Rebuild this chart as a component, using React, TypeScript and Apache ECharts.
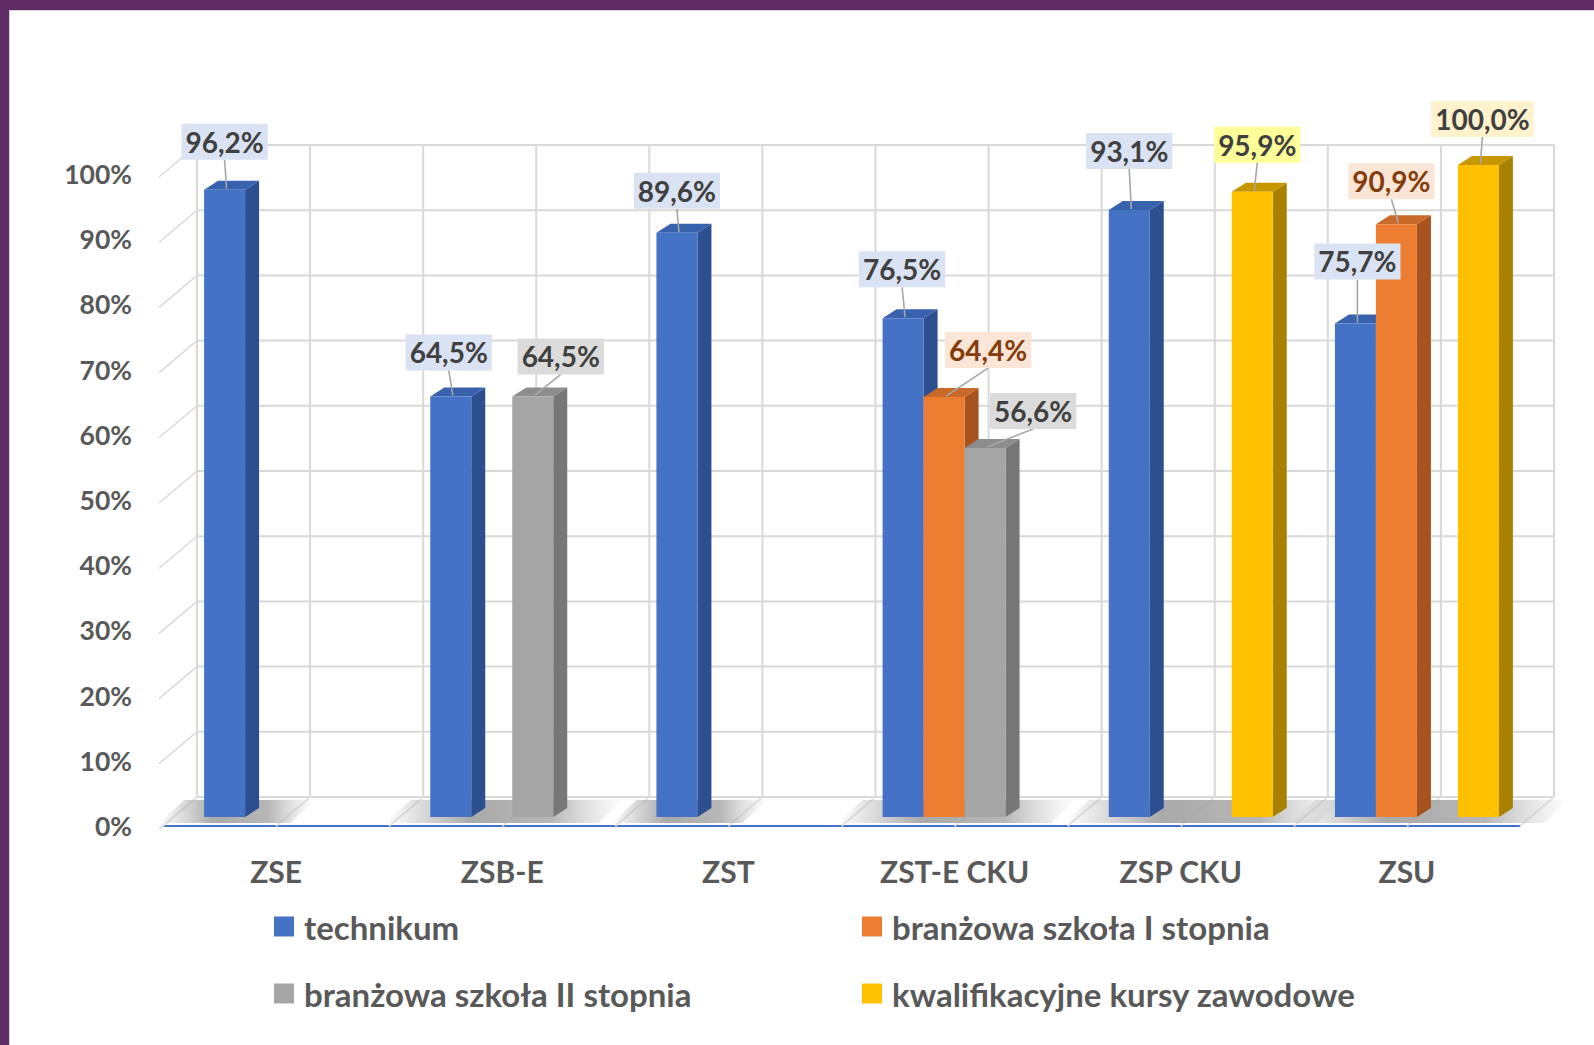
import React, { useEffect, useRef } from "react";
import * as echarts from "echarts";

// ---------- data ----------
const categories = ["ZSE", "ZSB-E", "ZST", "ZST-E CKU", "ZSP CKU", "ZSU"];
const seriesNames = [
  "technikum",
  "branżowa szkoła I stopnia",
  "branżowa szkoła II stopnia",
  "kwalifikacyjne kursy zawodowe",
];
const technikum = [96.2, 64.5, 89.6, 76.5, 93.1, 75.7];
const branzowaI = [null, null, null, 64.4, null, 90.9];
const branzowaII = [null, 64.5, null, 56.6, null, null];
const kursy = [null, null, null, null, 95.9, 100.0];
const yTicks = [0, 10, 20, 30, 40, 50, 60, 70, 80, 90, 100];

const seriesValues: (number | null)[][] = [technikum, branzowaI, branzowaII, kursy];

// ---------- layout / style ----------
const FONT = "Lato";
const BAR_FRAC = 41 / 226.2; // bar width as fraction of category width
const BAR_SHIFT = { x: 10, y: -9 };
const DEPTH = { dx: 14, dy: -9 };
const WALL = { dx: 34, dy: -29 };
const GRID_COLOR = "#d9d9d9";

const barColors = [
  { front: "#4472c4", side: "#2e4f8f", top: "#3862ae" },
  { front: "#ed7d31", side: "#a6531d", top: "#c9692a" },
  { front: "#a5a5a5", side: "#777777", top: "#8d8d8d" },
  { front: "#ffc000", side: "#a88100", top: "#c79700" },
];
const labelText = ["#404040", "#843c0c", "#404040", "#404040"];
const labelBg = [
  ["#dae3f3", "#dae3f3", "#dae3f3", "#dae3f3", "#dae3f3", "#dae3f3"],
  ["#fbe5d6", "#fbe5d6", "#fbe5d6", "#fbe5d6", "#fbe5d6", "#fbe5d6"],
  ["#dbdbdb", "#dbdbdb", "#dbdbdb", "#dbdbdb", "#dbdbdb", "#dbdbdb"],
  ["#fff2cc", "#fff2cc", "#fff2cc", "#fff2cc", "#ffff99", "#fff2cc"],
];
// label offsets (px) from bar front-top center
const labelOffsets: ([number, number] | null)[][] = [
  [[0, -48], [-2, -44], [0, -42], [-1, -49], [0, -59], [2, -62]],
  [null, null, null, [44, -47], null, [-5, -43]],
  [null, [28, -40], null, [48, -37], null, null],
  [null, null, null, null, [5, -47], [4, -46]],
];

function fmt(v: number) {
  return v.toFixed(1).replace(".", ",") + "%";
}

function barGeom(api: any, cat: number, v: number, slot: number) {
  const base = api.coord([cat, 0]);
  const top = api.coord([cat, v]);
  const catW = api.size([1, 0])[0];
  const bw = catW * BAR_FRAC;
  const x0 = base[0] - 2 * bw + BAR_SHIFT.x + slot * bw;
  return { x0, x1: x0 + bw, bw, yb: base[1] + BAR_SHIFT.y, yt: top[1] + BAR_SHIFT.y };
}

function makeBarSeries(slot: number) {
  const c = barColors[slot];
  const data = seriesValues[slot]
    .map((v, i) => (v == null ? null : [i, v]))
    .filter((d) => d !== null);
  return {
    type: "custom",
    name: seriesNames[slot],
    z: 3,
    itemStyle: { color: c.front },
    data,
    renderItem: (params: any, api: any) => {
      const cat = api.value(0);
      const v = api.value(1);
      const g = barGeom(api, cat, v, slot);
      return {
        type: "group",
        children: [
          {
            type: "polygon",
            shape: {
              points: [
                [g.x1, g.yt],
                [g.x1 + DEPTH.dx, g.yt + DEPTH.dy],
                [g.x1 + DEPTH.dx, g.yb + DEPTH.dy],
                [g.x1, g.yb],
              ],
            },
            style: { fill: c.side },
          },
          {
            type: "polygon",
            shape: {
              points: [
                [g.x0, g.yt],
                [g.x1, g.yt],
                [g.x1 + DEPTH.dx, g.yt + DEPTH.dy],
                [g.x0 + DEPTH.dx, g.yt + DEPTH.dy],
              ],
            },
            style: { fill: c.top },
          },
          {
            type: "rect",
            shape: { x: g.x0, y: g.yt, width: g.bw, height: g.yb - g.yt },
            style: { fill: c.front },
          },
        ],
      };
    },
  };
}

const gridSeries = {
  type: "custom",
  name: "grid",
  silent: true,
  z: 1,
  data: yTicks.map((v) => [0, v]),
  renderItem: (params: any, api: any) => {
    const cs = params.coordSys;
    const y = api.coord([0, api.value(1)])[1];
    const xa = cs.x;
    const xb = cs.x + cs.width;
    return {
      type: "group",
      children: [
        {
          type: "line",
          shape: { x1: xa + WALL.dx, y1: y + WALL.dy, x2: xb + WALL.dx, y2: y + WALL.dy },
          style: { stroke: GRID_COLOR, lineWidth: 2 },
        },
        {
          type: "line",
          shape: { x1: xa - 4, y1: y + 3, x2: xa + WALL.dx, y2: y + WALL.dy },
          style: { stroke: GRID_COLOR, lineWidth: 1.5 },
        },
      ],
    };
  },
};

const verticalSeries = {
  type: "custom",
  name: "vgrid",
  silent: true,
  z: 1,
  data: Array.from({ length: categories.length * 2 + 1 }, (_, k) => [0, 0, k]),
  renderItem: (params: any, api: any) => {
    const cs = params.coordSys;
    const k = api.value(2);
    const x = cs.x + (k * cs.width) / (2 * categories.length);
    const y0 = api.coord([0, 0])[1];
    const y100 = api.coord([0, 100])[1];
    return {
      type: "group",
      children: [
        {
          type: "line",
          shape: { x1: x + WALL.dx, y1: y100 + WALL.dy, x2: x + WALL.dx, y2: y0 + WALL.dy },
          style: { stroke: GRID_COLOR, lineWidth: 2 },
        },
        {
          type: "line",
          shape: { x1: x, y1: y0, x2: x + WALL.dx, y2: y0 + WALL.dy },
          style: { stroke: "#e4e4e4", lineWidth: 2 },
        },
      ],
    };
  },
};

const shadowData = categories
  .map((_, i) => {
    const slots = seriesValues.map((arr, s) => (arr[i] == null ? -1 : s)).filter((s) => s >= 0);
    return slots.length ? [i, 0, slots[0], slots[slots.length - 1]] : null;
  })
  .filter((d) => d !== null);

const shadowSeries = {
  type: "custom",
  name: "shadow",
  silent: true,
  z: 2,
  data: shadowData,
  renderItem: (params: any, api: any) => {
    const cat = api.value(0);
    const a = barGeom(api, cat, 0, api.value(2));
    const b = barGeom(api, cat, 0, api.value(3));
    const xL = a.x0 - 45;
    const xR = b.x1 + 70;
    return {
      type: "polygon",
      shape: {
        points: [
          [xL, a.yb + 6],
          [xR - 25, a.yb + 6],
          [xR, a.yb - 17],
          [xL + 25, a.yb - 17],
        ],
      },
      style: {
        fill: new echarts.graphic.LinearGradient(0, 0, 1, 0, [
          { offset: 0, color: "rgba(165,165,165,0)" },
          { offset: 0.35, color: "rgba(160,160,160,0.9)" },
          { offset: 0.7, color: "rgba(170,170,170,0.85)" },
          { offset: 1, color: "rgba(200,200,200,0)" },
        ]),
      },
    };
  },
};

const labelData: number[][] = [];
seriesValues.forEach((arr, s) =>
  arr.forEach((v, i) => {
    if (v != null) labelData.push([i, v, s]);
  })
);

const labelSeries = {
  type: "custom",
  name: "labels",
  silent: true,
  z: 5,
  data: labelData,
  renderItem: (params: any, api: any) => {
    const cat = api.value(0);
    const v = api.value(1);
    const s = api.value(2);
    const g = barGeom(api, cat, v, s);
    const off = labelOffsets[s][cat] || [0, -45];
    const bx = g.x0 + g.bw / 2;
    const cx = bx + off[0];
    const cy = g.yt + off[1];
    return {
      type: "group",
      children: [
        {
          type: "line",
          shape: { x1: cx, y1: cy + 18, x2: bx + 2, y2: g.yt - 1 },
          style: { stroke: "#a6a6a6", lineWidth: 1.6 },
        },
        {
          type: "text",
          style: {
            text: fmt(v),
            x: cx,
            y: cy,
            align: "center",
            verticalAlign: "middle",
            fontFamily: FONT,
            fontWeight: "bold",
            fontSize: 28,
            lineHeight: 28,
            fill: labelText[s],
            backgroundColor: labelBg[s][cat],
            padding: [4, 4, 4, 4],
          },
        },
      ],
    };
  },
};

const legendText = {
  fontFamily: FONT,
  fontWeight: "bold",
  fontSize: 33,
  color: "#595959",
  padding: [0, 0, 0, 5],
};

const option: any = {
  animation: false,
  backgroundColor: "#ffffff",
  graphic: [
    { type: "rect", shape: { x: 0, y: 0, width: 1594, height: 10 }, style: { fill: "#612d67" }, z: 10 },
    { type: "rect", shape: { x: 0, y: 0, width: 9, height: 1045 }, style: { fill: "#612d67" }, z: 10 },
    { type: "line", shape: { x1: 9.5, y1: 10, x2: 9.5, y2: 1045 }, style: { stroke: "#dccde2", lineWidth: 1 }, z: 10 },
    { type: "line", shape: { x1: 9, y1: 10.5, x2: 1594, y2: 10.5 }, style: { stroke: "#dccde2", lineWidth: 1 }, z: 10 },
  ],
  grid: { left: 163, right: 74, top: 174, bottom: 219, containLabel: false },
  xAxis: {
    type: "category",
    data: categories,
    axisTick: { show: false },
    axisLine: { show: true, lineStyle: { color: "#4472c4", width: 2 } },
    axisLabel: {
      interval: 0,
      margin: 30,
      fontFamily: FONT,
      fontWeight: "bold",
      fontSize: 30,
      color: "#595959",
    },
    splitLine: { show: false },
  },
  yAxis: {
    type: "value",
    min: 0,
    max: 100,
    interval: 10,
    axisLine: { show: false },
    axisTick: { show: false },
    splitLine: { show: false },
    axisLabel: {
      formatter: "{value}%",
      margin: 31,
      fontFamily: FONT,
      fontWeight: "bold",
      fontSize: 26.5,
      color: "#595959",
    },
  },
  legend: [
    {
      orient: "vertical",
      left: 274,
      top: 910,
      padding: 0,
      itemWidth: 20,
      itemHeight: 20,
      itemGap: 34,
      icon: "rect",
      data: [seriesNames[0], seriesNames[2]],
      textStyle: legendText,
      selectedMode: false,
    },
    {
      orient: "vertical",
      left: 862,
      top: 910,
      padding: 0,
      itemWidth: 20,
      itemHeight: 20,
      itemGap: 34,
      icon: "rect",
      data: [seriesNames[1], seriesNames[3]],
      textStyle: legendText,
      selectedMode: false,
    },
  ],
  series: [
    gridSeries,
    verticalSeries,
    shadowSeries,
    makeBarSeries(0),
    makeBarSeries(1),
    makeBarSeries(2),
    makeBarSeries(3),
    labelSeries,
  ],
};

export default function App() {
  const ref = useRef<HTMLDivElement>(null);
  useEffect(() => {
    if (!ref.current) return;
    const chart = echarts.init(ref.current, null, { renderer: "svg" });
    chart.setOption(option);
    return () => chart.dispose();
  }, []);
  return (
    <div
      ref={ref}
      style={{ position: "fixed", left: 0, top: 0, width: 1594, height: 1045, background: "#fff" }}
    />
  );
}
